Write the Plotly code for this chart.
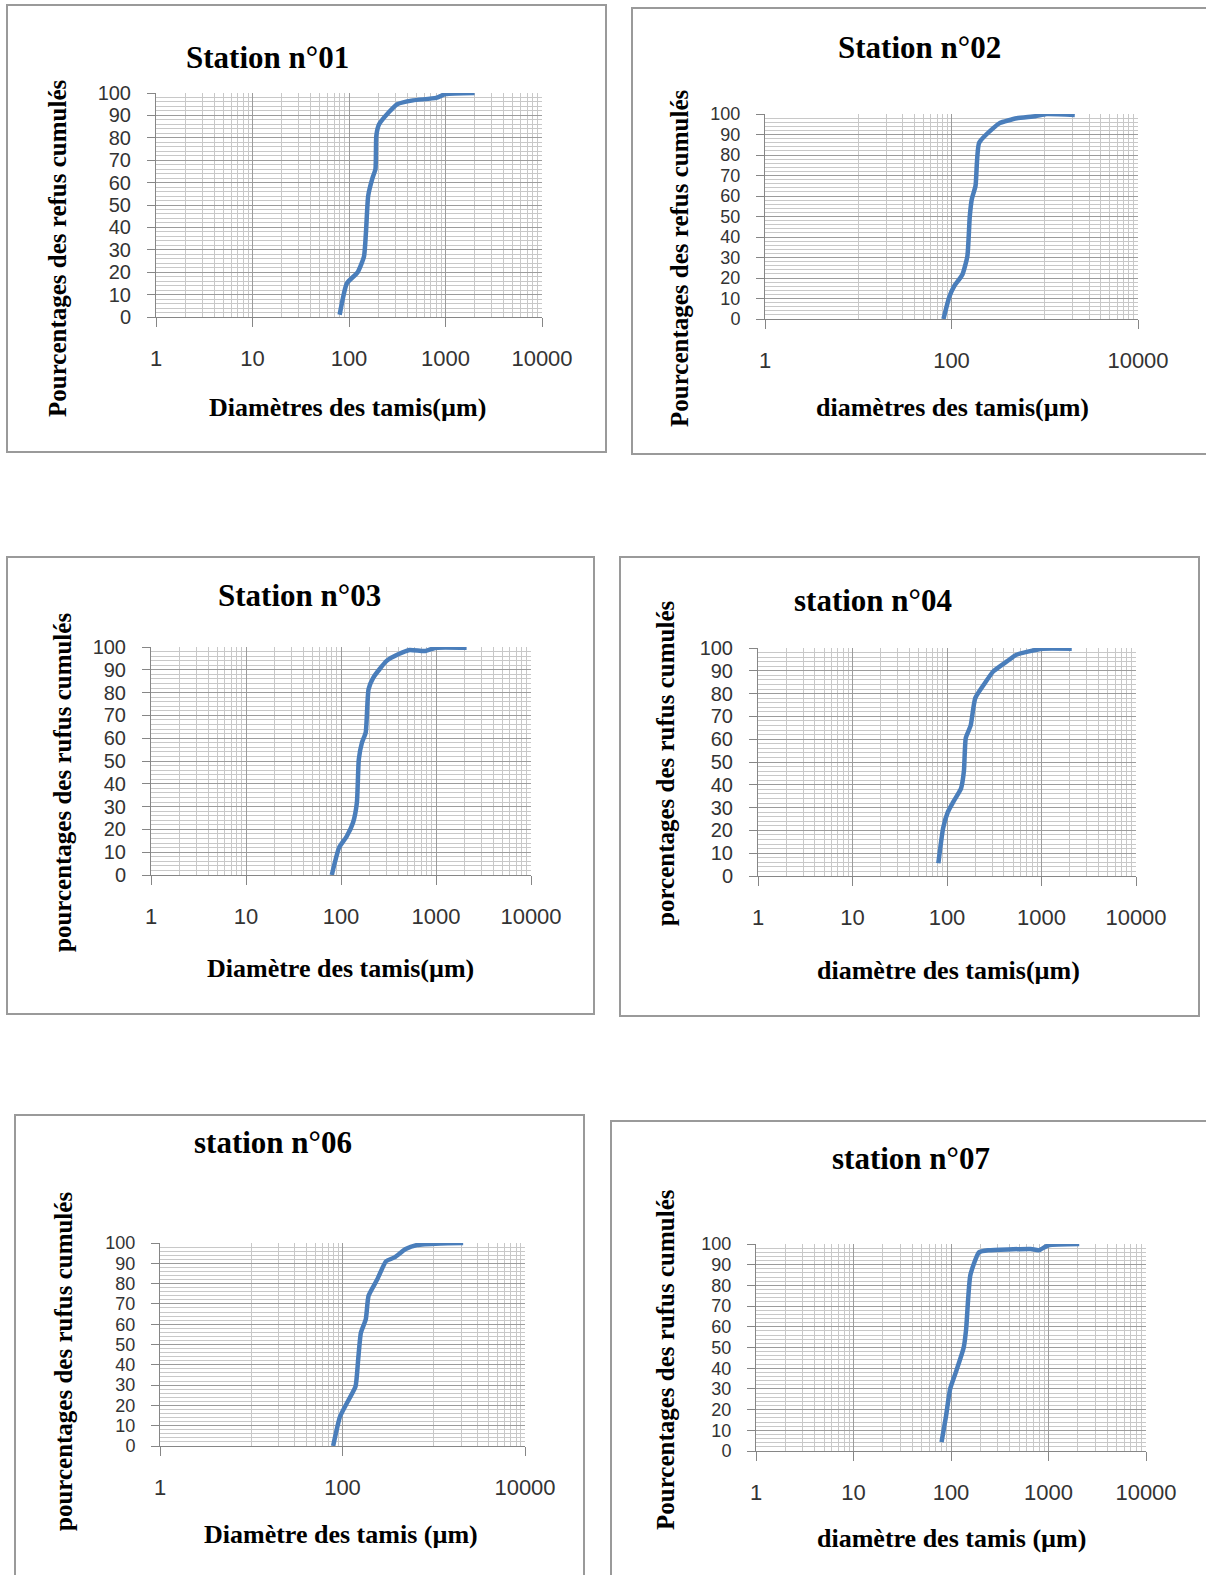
import plotly.graph_objects as go

W, H = 1206, 1575

# ---------------- data ----------------
titles = ["Station n°01", "Station n°02", "Station n°03",
          "station n°04", "station n°06", "station n°07"]
xtitles = ["Diamètres des tamis(µm)", "diamètres des tamis(µm)",
           "Diamètre des tamis(µm)", "diamètre des tamis(µm)",
           "Diamètre des tamis (µm)", "diamètre des tamis (µm)"]
ytitles = ["Pourcentages des refus cumulés", "Pourcentages des refus cumulés",
           "pourcentages des rufus cumulés", "porcentages des rufus cumulés",
           "pourcentages des rufus cumulés", "Pourcentages des rufus cumulés"]

d01 = [80, 95, 123, 143, 150, 158, 175, 188, 192, 205, 260, 316, 460, 800, 1000, 2000]
v01 = [1, 15, 20, 27, 38, 54, 62, 66, 81, 86, 91.5, 95, 96.7, 97.8, 99.5, 100]

d02 = [82, 95, 107, 131, 148, 157, 165, 181, 198, 287, 330, 500, 794, 1047, 2100]
v02 = [0, 11, 16, 21.7, 30.7, 50, 58.4, 65, 86, 93.5, 95.6, 97.9, 98.9, 100, 99.5]

d03 = [80, 95.5, 115, 134, 147, 154, 166, 182, 195, 219, 302, 400, 527, 760, 1000, 2100]
v03 = [0, 12, 17, 23, 31.8, 50.8, 58, 62.5, 81.5, 86.6, 93.9, 96.8, 98.7, 98.2, 99.7, 99.7]

d04 = [81, 91, 102, 117, 141, 151, 158, 178, 199, 246, 310, 430, 542, 716, 1038, 2090]
v04 = [5.6, 21, 28, 32.6, 38.5, 46, 60.5, 66, 78, 84, 89.8, 94.1, 97, 98.4, 99.7, 99.7]

d06 = [79, 94, 117, 139, 148.5, 159, 180, 193, 240, 300, 371, 492, 656, 1180, 2100]
v06 = [0, 14.5, 22.8, 29.4, 42.6, 55.8, 62.4, 74, 82, 91, 92.9, 97, 99, 99.8, 100]

d07 = [80, 89, 98, 112, 135, 143, 158, 194, 243, 382, 658, 795, 1000, 2066]
v07 = [4.3, 17, 30, 38, 50, 59, 85, 96, 97, 97.4, 97.6, 97, 99.4, 100]

series_d = [d01, d02, d03, d04, d06, d07]
series_v = [v01, v02, v03, v04, v06, v07]

y_ticks = list(range(0, 101, 10))
x_ticks_dec = [1, 10, 100, 1000, 10000]
x_ticks_dec_text = ["1", "10", "100", "1000", "10000"]
x_ticks_cent = [1, 100, 10000]
x_ticks_cent_text = ["1", "100", "10000"]

# minor gridline positions
minor_dec = [m * 10 ** k for k in range(4) for m in range(2, 10)]
minor_cent = [m * 10 ** k for k in (0, 2) for m in range(10, 100, 10)]

# ---------------- layout (pixel positions) ----------------
panels = [
    dict(plot=(156, 542, 93, 317), frame=(7, 5, 606, 452), title=(267, 57),
         ytitle=(57, 248), xtitle=(347, 407), cent=False, yfs=20),
    dict(plot=(765, 1138, 114, 319), frame=(632, 8, 1212, 454), title=(919, 47),
         ytitle=(679, 258), xtitle=(952, 407), cent=True, yfs=18),
    dict(plot=(151, 531, 647, 875), frame=(7, 557, 594, 1014), title=(299, 595),
         ytitle=(62, 783), xtitle=(340, 968), cent=False, yfs=20),
    dict(plot=(758, 1136, 648, 876), frame=(620, 557, 1199, 1016), title=(873, 600),
         ytitle=(665, 763), xtitle=(948, 970), cent=False, yfs=20),
    dict(plot=(160, 525, 1243, 1446), frame=(15, 1115, 584, 1590), title=(273, 1142),
         ytitle=(63, 1362), xtitle=(341, 1534), cent=True, yfs=18),
    dict(plot=(756, 1146, 1244, 1451), frame=(611, 1121, 1215, 1590), title=(911, 1158),
         ytitle=(665, 1360), xtitle=(951, 1538), cent=False, yfs=18),
]

MAJOR = "#9c9c9c"
MINOR = "#c8c8c8"
AXIS = "#868686"
SANS = "'Liberation Sans', Arial, sans-serif"
SERIF = "'Liberation Serif', 'Times New Roman', serif"


def px(x):
    return x / W


def py(y):
    return 1 - y / H


fig = go.Figure()
annotations = []
shapes = []

for i, p in enumerate(panels):
    n = i + 1
    sfx = "" if n == 1 else str(n)
    xa, ya = "x" + sfx, "y" + sfx
    x0, x1, yt, yb = p["plot"]

    fig.add_trace(go.Scatter(
        x=series_d[i], y=series_v[i], mode="lines",
        line=dict(color="#4a7ebb", width=4.5, shape="spline", smoothing=0.5),
        xaxis=xa, yaxis=ya, showlegend=False, hoverinfo="skip", cliponaxis=False))

    if p["cent"]:
        tv, tt, mv = x_ticks_cent, x_ticks_cent_text, minor_cent
    else:
        tv, tt, mv = x_ticks_dec, x_ticks_dec_text, minor_dec

    fig.layout["xaxis" + sfx] = dict(
        type="log", range=[0, 4], domain=[px(x0), px(x1)], anchor=ya,
        automargin=False,
        tickmode="array", tickvals=tv, ticktext=tt,
        showgrid=True, gridcolor=MAJOR, gridwidth=1,
        minor=dict(tickmode="array", tickvals=mv, showgrid=True,
                   gridcolor=MINOR, gridwidth=1, ticks=""),
        ticks="outside", ticklen=9, tickcolor=AXIS, tickwidth=1,
        showline=True, linecolor=AXIS, linewidth=1,
        tickfont=dict(family=SANS, size=22, color="#333"),
        ticklabelstandoff=13, zeroline=False, fixedrange=True)

    fig.layout["yaxis" + sfx] = dict(
        range=[0, 100], domain=[py(yb), py(yt)], anchor=xa,
        automargin=False,
        tickmode="array", tickvals=y_ticks,
        showgrid=True, gridcolor=MAJOR, gridwidth=1,
        minor=dict(dtick=2, showgrid=True, gridcolor=MINOR, gridwidth=1, ticks=""),
        ticks="outside", ticklen=8, tickcolor=AXIS, tickwidth=1,
        showline=True, linecolor=AXIS, linewidth=1,
        tickfont=dict(family=SANS, size=p["yfs"], color="#333"),
        ticklabelstandoff=12, zeroline=False, fixedrange=True)

    fx0, fy0, fx1, fy1 = p["frame"]
    shapes.append(dict(type="rect", xref="paper", yref="paper",
                       x0=px(fx0), x1=px(fx1), y0=py(fy1), y1=py(fy0),
                       line=dict(color="#9a9a9a", width=2), layer="below"))

    tx, ty = p["title"]
    annotations.append(dict(text="<b>" + titles[i] + "</b>", x=px(tx), y=py(ty),
                            xref="paper", yref="paper", xanchor="center", yanchor="middle",
                            showarrow=False, font=dict(family=SERIF, size=31, color="#000")))
    xx, xy = p["xtitle"]
    annotations.append(dict(text="<b>" + xtitles[i] + "</b>", x=px(xx), y=py(xy),
                            xref="paper", yref="paper", xanchor="center", yanchor="middle",
                            showarrow=False, font=dict(family=SERIF, size=26, color="#000")))
    yx, yy = p["ytitle"]
    annotations.append(dict(text="<b>" + ytitles[i] + "</b>", x=px(yx), y=py(yy),
                            xref="paper", yref="paper", xanchor="center", yanchor="middle",
                            textangle=-90, showarrow=False,
                            font=dict(family=SERIF, size=25, color="#000")))

fig.update_layout(
    width=W, height=H, margin=dict(l=0, r=0, t=0, b=0, autoexpand=False),
    paper_bgcolor="white", plot_bgcolor="white",
    annotations=annotations, shapes=shapes, showlegend=False)

fig.write_html("out.html", config={"displayModeBar": False})
